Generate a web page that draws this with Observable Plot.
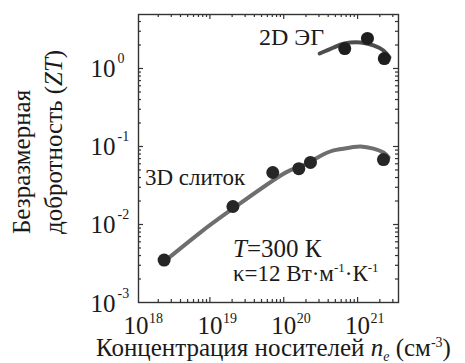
<!DOCTYPE html>
<html><head><meta charset="utf-8">
<script src="https://cdn.jsdelivr.net/npm/d3@7"></script>
<script src="https://cdn.jsdelivr.net/npm/@observablehq/plot@0.6"></script>
<style>
body{margin:0;background:#fff} svg{display:block}
</style>
</head><body><div id="chart"></div>
<script>
// Measured points (carrier concentration cm^-3, ZT)
const dots3D_x = [2.4e18, 2.05e19, 7.1e19, 1.6e20, 2.3e20, 2.24e21];
const dots3D_y = [3.5e-3, 0.017, 0.0464, 0.052, 0.0624, 0.068];
const dots2D_x = [6.7e20, 1.36e21, 2.3e21];
const dots2D_y = [1.8, 2.43, 1.34];
// Fitted curves
const curve3D_x = [2.32e18, 7.55e18, 2.05e19, 9.1e19, 1.7e20, 2.88e20, 4.74e20, 8.04e20, 1.1e21, 1.64e21, 2.24e21, 2.63e21];
const curve3D_y = [3.26e-3, 8.0e-3, 0.016, 0.0425, 0.0555, 0.0723, 0.089, 0.097, 0.1, 0.094, 0.0838, 0.0723];
const curve2D_x = [3.06e20, 4.74e20, 6.67e20, 1.1e21, 1.64e21, 2.24e21, 2.7e21];
const curve2D_y = [1.556, 1.858, 2.094, 2.153, 1.972, 1.702, 1.384];
// Tick labels
const xTickLabels = [1e18, 1e19, 1e20, 1e21];
const yTickLabels = [1e-3, 1e-2, 1e-1, 1e0];
const xMajor = [1e19, 1e20, 1e21];
const yMajor = [1e-2, 1e-1, 1e0];
const xDomain = [1.08e18, 3.58e21];
const yDomain = [1e-3, 4.92];

const xMinor = [], yMinor = [];
for (let e = 18; e <= 21; e++) for (let m = 2; m <= 9; m++) { const v = m * 10 ** e; if (v > xDomain[0] && v < xDomain[1]) xMinor.push(v); }
for (let e = -3; e <= 0; e++) for (let m = 2; m <= 9; m++) { const v = m * 10 ** e; if (v > yDomain[0] && v < yDomain[1]) yMinor.push(v); }

const pts = (xs, ys) => xs.map((x, i) => ({x, y: ys[i]}));
const W = 465, H = 363, mL = 138, mR = 67, mT = 14, mB = 61;
const fw = W - mL - mR, fh = H - mT - mB;
const serif = "Liberation Serif";
const ink = "#1a1a1a", axc = "#333";

const svg = Plot.plot({
  width: W, height: H,
  marginLeft: mL, marginRight: mR, marginTop: mT, marginBottom: mB,
  x: {type: "log", domain: xDomain, axis: null},
  y: {type: "log", domain: yDomain, axis: null},
  marks: [
    // inward ticks on all four sides
    Plot.ruleX(xMajor, {x: d => d, insetTop: fh - 5, stroke: axc, strokeWidth: 1.2}),
    Plot.ruleX(xMinor, {x: d => d, insetTop: fh - 3, stroke: axc, strokeWidth: 1.2}),
    Plot.ruleX(xMajor, {x: d => d, insetBottom: fh - 5, stroke: axc, strokeWidth: 1.2}),
    Plot.ruleX(xMinor, {x: d => d, insetBottom: fh - 3, stroke: axc, strokeWidth: 1.2}),
    Plot.ruleY(yMajor, {y: d => d, insetRight: fw - 5, stroke: axc, strokeWidth: 1.2}),
    Plot.ruleY(yMinor, {y: d => d, insetRight: fw - 3, stroke: axc, strokeWidth: 1.2}),
    Plot.ruleY(yMajor, {y: d => d, insetLeft: fw - 5, stroke: axc, strokeWidth: 1.2}),
    Plot.ruleY(yMinor, {y: d => d, insetLeft: fw - 3, stroke: axc, strokeWidth: 1.2}),
    Plot.frame({stroke: axc, strokeWidth: 1.4}),
    // curves
    Plot.line(pts(curve3D_x, curve3D_y), {x: "x", y: "y", stroke: "#6e6e6e", strokeWidth: 4, curve: "natural"}),
    Plot.line(pts(curve2D_x, curve2D_y), {x: "x", y: "y", stroke: "#4d4d4d", strokeWidth: 4, curve: "natural"}),
    // data points
    Plot.dot(pts(dots3D_x, dots3D_y), {x: "x", y: "y", r: 6.5, fill: "#262626"}),
    Plot.dot(pts(dots2D_x, dots2D_y), {x: "x", y: "y", r: 6.5, fill: "#1e1e1e"}),
    // tick labels
    Plot.text(xTickLabels, {x: d => d, frameAnchor: "bottom", text: () => "10", dy: 31, lineAnchor: "bottom", fontSize: 25, fontFamily: serif, fill: ink}),
    Plot.text(xTickLabels, {x: d => d, frameAnchor: "bottom", text: d => String(Math.round(Math.log10(d))), textAnchor: "start", dx: 13, dy: 20, lineAnchor: "bottom", fontSize: 14, fontFamily: serif, fill: ink}),
    Plot.text(yTickLabels, {y: d => d, frameAnchor: "left", text: () => "10", textAnchor: "end", dx: -23, dy: 1, lineAnchor: "middle", fontSize: 25, fontFamily: serif, fill: ink}),
    Plot.text(yTickLabels, {y: d => d, frameAnchor: "left", text: d => String(Math.round(Math.log10(d))), textAnchor: "start", dx: -21, dy: -5, lineAnchor: "bottom", fontSize: 14, fontFamily: serif, fill: ink})
  ]
});

const s = d3.select(svg);
function rich(x, y, parts, size, opts = {}) {
  const t = s.append("text").attr("x", x).attr("y", y)
    .attr("font-family", serif).attr("font-size", size).attr("fill", ink)
    .attr("text-anchor", opts.anchor || "start");
  if (opts.rotate) t.attr("transform", `rotate(-90 ${x} ${y})`);
  for (const p of parts) {
    const sp = t.append("tspan").text(p.t);
    if (p.i) sp.attr("font-style", "italic");
    if (p.fs) sp.attr("font-size", p.fs);
    if (p.dy) sp.attr("dy", p.dy);
  }
  return t;
}
// annotations
rich(259, 45, [{t: "2D ЭГ"}], 24);
rich(145, 185, [{t: "3D слиток"}], 23);
rich(233, 257, [{t: "T", i: true}, {t: "=300 К"}], 25);
rich(233, 281, [{t: "κ=12 Вт·м"}, {t: "-1", fs: 13, dy: -9}, {t: "·К", dy: 9}, {t: "-1", fs: 13, dy: -9}], 23);
// axis titles
rich(30, 234, [{t: "Безразмерная"}], 25, {rotate: true});
rich(62, 234, [{t: "добротность ("}, {t: "ZT", i: true}, {t: ")"}], 25, {rotate: true});
rich(96, 356, [{t: "Концентрация носителей "}, {t: "n", i: true}, {t: "e", i: true, fs: 14, dy: 5}, {t: " (см", dy: -5}, {t: "-3", fs: 14, dy: -9}, {t: ")", dy: 9}], 25);

document.getElementById("chart").appendChild(svg);
</script>
</body></html>
